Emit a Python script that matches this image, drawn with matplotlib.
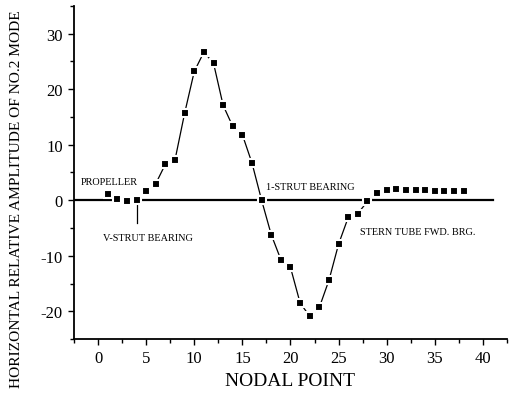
import matplotlib
matplotlib.use('Agg')
import matplotlib.pyplot as plt
from matplotlib.ticker import MultipleLocator

# datos
nodos = list(range(1, 39))
amplitud = [1.2, 0.2, -0.1, 0.0, 1.6, 3.0, 6.5, 7.3, 15.7, 23.2,
            26.7, 24.7, 17.1, 13.3, 11.8, 6.7, 0.0, -6.2, -10.7, -12.1,
            -18.5, -20.9, -19.3, -14.4, -7.9, -3.1, -2.4, -0.2, 1.3, 1.8,
            2.0, 1.9, 1.8, 1.8, 1.7, 1.6, 1.6, 1.6]

y_ticks = [-20, -10, 0, 10, 20, 30]
y_labels = ['-20', '-10', '0', '10', '20', '30']
x_ticks = [0, 5, 10, 15, 20, 25, 30, 35, 40]

plt.rcParams['font.family'] = ['Liberation Serif', 'DejaVu Serif']

fig = plt.figure(figsize=(5.09, 4.10), dpi=100)
ax = fig.add_axes([0.1454, 0.1707, 0.8506, 0.8123])

# linea de cero
ax.plot([-2.5, 41], [0, 0], color='black', lw=1.6, zorder=2)

# curva del modo
ax.plot(nodos, amplitud, color='black', lw=0.9, zorder=3)
ax.plot(nodos, amplitud, ls='none', marker='s', ms=5.8, mfc='black',
        mec='white', mew=1.5, zorder=4)

# marcas de rodamientos
ax.plot([4, 4], [0, -4.1], color='black', lw=0.9, zorder=3)

tam_nota = 7.4
ax.text(-1.8, 3.3, 'PROPELLER', fontsize=tam_nota, va='center', ha='left')
ax.text(0.5, -6.7, 'V-STRUT BEARING', fontsize=tam_nota, va='center', ha='left')
ax.text(17.5, 2.4, '1-STRUT BEARING', fontsize=tam_nota, va='center', ha='left')
ax.text(27.2, -5.7, 'STERN TUBE FWD. BRG.', fontsize=tam_nota, va='center', ha='left')

ax.set_xlim(-2.5, 42.5)
ax.set_ylim(-25, 35)

ax.set_xticks(x_ticks)
ax.set_yticks(y_ticks)
ax.set_yticklabels(y_labels)
ax.xaxis.set_minor_locator(MultipleLocator(2.5))
ax.yaxis.set_minor_locator(MultipleLocator(5))
ax.tick_params(which='major', direction='out', length=4, width=1, labelsize=12, pad=4)
ax.tick_params(which='minor', direction='out', length=3, width=1)

for lado in ['top', 'right']:
    ax.spines[lado].set_visible(False)
for lado in ['left', 'bottom']:
    ax.spines[lado].set_linewidth(1.3)

ax.set_xlabel('NODAL POINT', fontsize=14, labelpad=4)
ax.set_ylabel('HORIZONTAL RELATIVE AMPLITUDE OF NO.2 MODE', fontsize=11.1)
ax.yaxis.set_label_coords(-0.118, 0.423)

fig.savefig('out.png', dpi=100)
